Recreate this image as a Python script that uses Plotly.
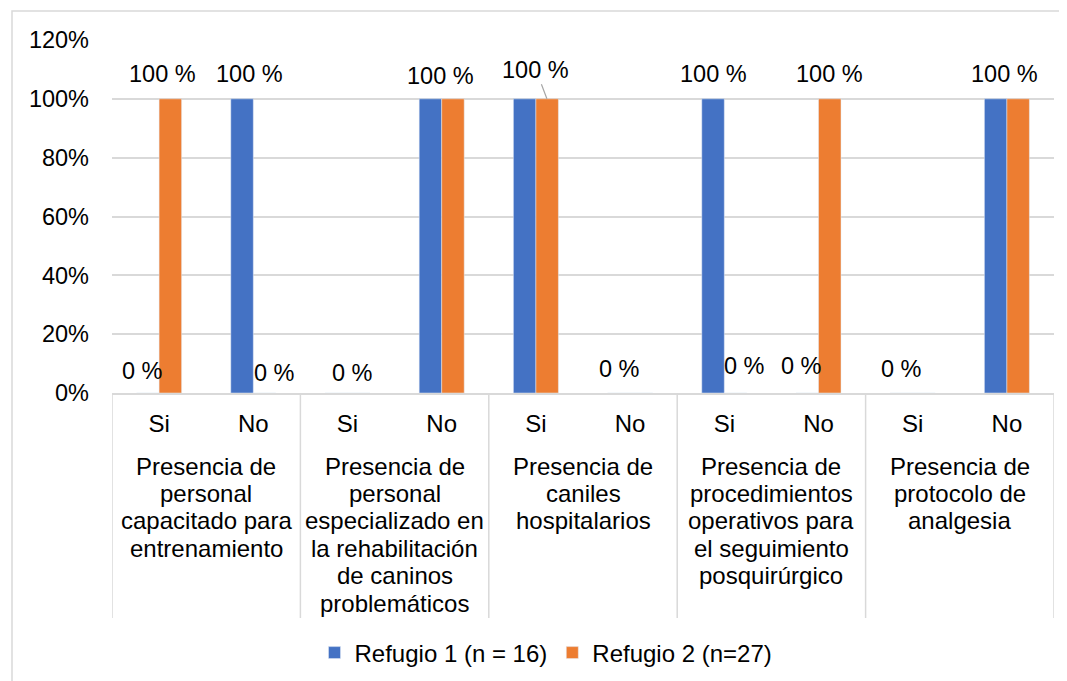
import plotly.graph_objects as go

# data
grupos = [
    "Presencia de\npersonal\ncapacitado para\nentrenamiento",
    "Presencia de\npersonal\nespecializado en\nla rehabilitación\nde caninos\nproblemáticos",
    "Presencia de\ncaniles\nhospitalarios",
    "Presencia de\nprocedimientos\noperativos para\nel seguimiento\nposquirúrgico",
    "Presencia de\nprotocolo de\nanalgesia",
]
respuestas = ["Si", "No"]
refugio1 = [0, 100, 0, 100, 100, 0, 100, 0, 0, 100]
refugio2 = [100, 0, 0, 100, 100, 0, 0, 100, 0, 100]
y_ticks = [0, 20, 40, 60, 80, 100, 120]

BLUE = "#4472C4"
ORANGE = "#ED7D31"
GRID = "#D9D9D9"
FONT = "Liberation Sans, Arial, sans-serif"

# page is 1067x681, the html body adds an 8px margin
OFF = 8
W, H = 1067 - OFF, 681 - OFF
# plot area in page pixels: x 112..1054, y 40..393
M_L, M_R, M_T, M_B = 112 - OFF, 1067 - 1054, 40 - OFF, 681 - 393
PLOT_W = W - M_L - M_R
PLOT_H = H - M_T - M_B


def px_x(px):
    return (px - OFF - M_L) / PLOT_W


def px_y(py):
    return (H - M_B - (py - OFF)) / PLOT_H


slots = list(range(len(refugio1)))
sub_labels = [r for _ in grupos for r in respuestas]

fig = go.Figure()
fig.add_trace(go.Bar(x=slots, y=refugio1, name="Refugio 1 (n = 16)", marker_color=BLUE))
fig.add_trace(go.Bar(x=slots, y=refugio2, name="Refugio 2 (n=27)", marker_color=ORANGE))

series = [refugio1, refugio2]
# data labels: (slot, series index, x nudge px, y nudge px)
label_spots = [
    (0, 0, -17, 22), (0, 1, 3, 25), (1, 0, -4, 25), (1, 1, 21, 20),
    (2, 0, 5, 20), (3, 0, -1, 23),
    (5, 0, -11, 24), (6, 0, -11, 25), (6, 1, 20, 27), (7, 0, -17, 27),
    (7, 1, 11, 25), (8, 0, -11, 24), (9, 0, -2, 25),
]
annotations = []
for slot, s, dx, dy in label_spots:
    v = series[s][slot]
    annotations.append(dict(
        x=slot, y=v, xref="x", yref="y", text=f"{v} %", showarrow=False,
        xshift=dx, yshift=dy, font=dict(size=23.5, color="#000000", family=FONT),
    ))

# label with leader line (caniles, Si)
annotations.append(dict(
    x=4, y=refugio2[4], xref="x", yref="y", text=f"{refugio2[4]} %",
    showarrow=True, arrowhead=0, arrowwidth=1.2, arrowcolor="#A6A6A6",
    xshift=11, ax=-11, ay=-29, standoff=0,
    font=dict(size=23.5, color="#000000", family=FONT),
))

# group labels, one annotation per line
for g, name in enumerate(grupos):
    for k, line in enumerate(name.split("\n")):
        annotations.append(dict(
            x=2 * g + 0.5, y=0, xref="x", yref="paper", text=line, showarrow=False,
            yanchor="middle", yshift=-(73 + 27.4 * k),
            font=dict(size=24, color="#000000", family=FONT),
        ))

shapes = []
for b in range(len(grupos) + 1):
    shapes.append(dict(
        type="line", xref="x", yref="paper", x0=2 * b - 0.5, x1=2 * b - 0.5,
        y0=0, y1=px_y(618), line=dict(color=GRID, width=1.5),
    ))
# chart frame
shapes.append(dict(
    type="rect", xref="paper", yref="paper", x0=px_x(12), x1=px_x(1090),
    y0=px_y(700), y1=px_y(11), line=dict(color=GRID, width=1.5),
))

fig.update_layout(
    width=W, height=H,
    margin=dict(l=M_L, r=M_R, t=M_T, b=M_B, autoexpand=False),
    paper_bgcolor="white", plot_bgcolor="white",
    barmode="group", bargap=0.522, bargroupgap=0,
    font=dict(family=FONT, size=23.5, color="#000000"),
    showlegend=True,
    legend=dict(
        orientation="h", x=px_x(546), xanchor="center", y=px_y(653), yanchor="middle",
        font=dict(size=24, family=FONT, color="#000000"),
        itemwidth=30, tracegroupgap=0,
    ),
    annotations=annotations,
    shapes=shapes,
)
fig.update_xaxes(
    range=[-0.5, len(slots) - 0.5], tickvals=slots, ticktext=sub_labels,
    showgrid=False, zeroline=False, showline=True, linecolor=GRID, linewidth=1.5,
    ticks="", ticklabelstandoff=8, tickfont=dict(size=24),
)
fig.update_yaxes(
    range=[0, 120], tickvals=y_ticks, ticktext=[f"{v}%" for v in y_ticks],
    showgrid=True, gridcolor=GRID, gridwidth=1.5, zeroline=False, showline=False,
    ticks="", ticklabelstandoff=22,
)

fig.write_html("out.html")
